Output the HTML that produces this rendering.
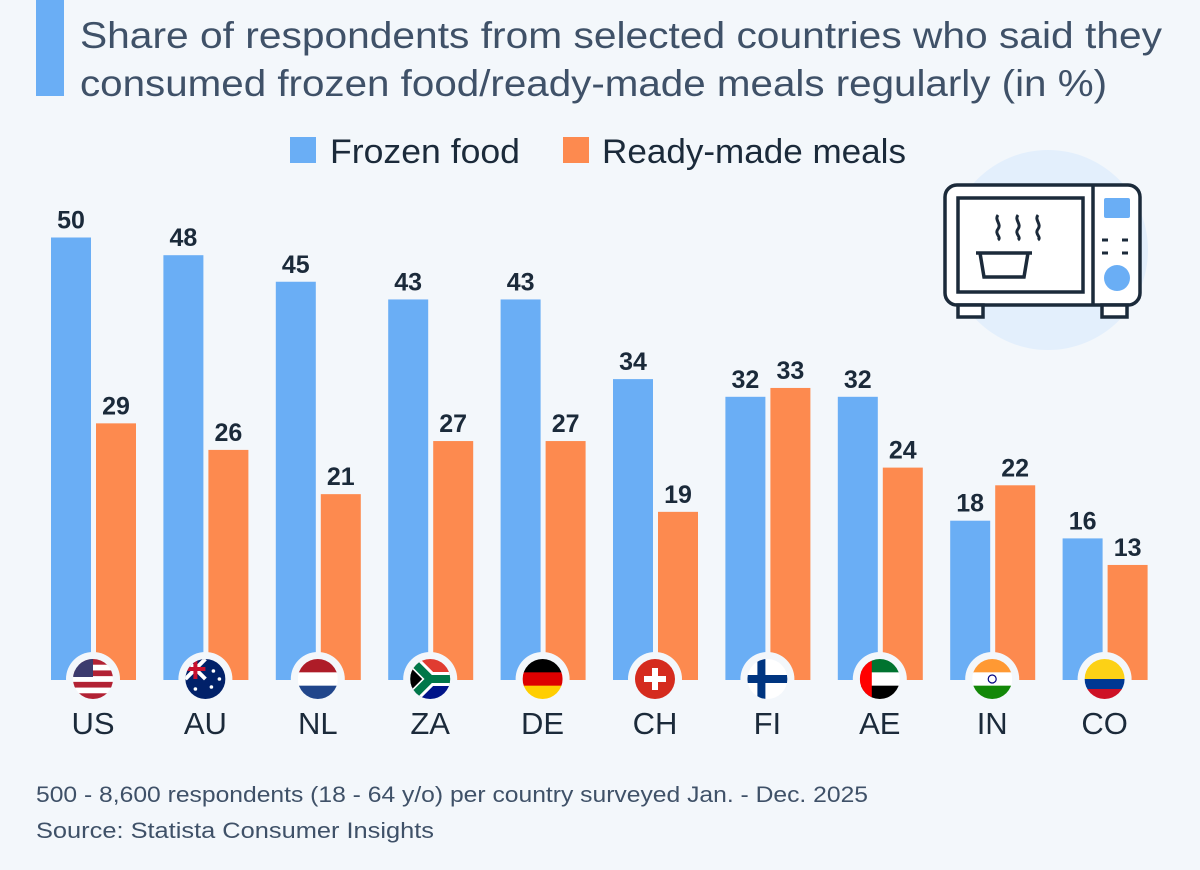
<!DOCTYPE html>
<html><head><meta charset="utf-8">
<style>
body{margin:0;background:#f3f7fb;width:1200px;height:865px;overflow:hidden;font-family:"Liberation Sans",sans-serif}
svg text{font-family:"Liberation Sans",sans-serif}
</style></head>
<body>
<svg id="c" width="1200" height="865" xmlns="http://www.w3.org/2000/svg">
<rect x="0" y="0" width="1200" height="865" fill="#f3f7fb"/>
<rect x="36" y="0" width="28" height="96" fill="#6aaef5"/>
<text x="80" y="48" font-size="37" fill="#3f5168" textLength="1082" lengthAdjust="spacingAndGlyphs">Share of respondents from selected countries who said they</text>
<text x="80" y="96" font-size="37" fill="#3f5168" textLength="1027" lengthAdjust="spacingAndGlyphs">consumed frozen food/ready-made meals regularly (in %)</text>
<g>
<rect x="290" y="137" width="26" height="26" fill="#6aaef5"/>
<text x="330" y="163" font-size="34" fill="#1b2a3a" textLength="190" lengthAdjust="spacingAndGlyphs">Frozen food</text>
<rect x="563" y="137" width="26" height="26" fill="#fd8a4f"/>
<text x="602" y="163" font-size="34" fill="#1b2a3a" textLength="304" lengthAdjust="spacingAndGlyphs">Ready-made meals</text>
</g>
<g fill="none" stroke="#1b2a3a" stroke-width="3.5">
<circle cx="1048" cy="250" r="100" fill="#e3effc" stroke="none"/>
<rect x="945" y="185" width="195" height="120" rx="12" fill="#fff"/>
<rect x="958" y="198" width="125" height="94"/>
<line x1="1093" y1="185" x2="1093" y2="305"/>
<rect x="958" y="305" width="25" height="12" fill="#fff"/>
<rect x="1102" y="305" width="25" height="12" fill="#fff"/>
<rect x="1104" y="198" width="26" height="20" rx="2" fill="#6aaef5" stroke="none"/>
<circle cx="1117" cy="278" r="13" fill="#6aaef5" stroke="none"/>
<path d="M1102 240h6M1122 240h6M1102 253h6M1122 253h6" stroke-width="3"/>
<path d="M976 253h56M980 253l4 24h40l4-24"/>
<path d="M998 215c-4 5 4 9 0 14s4 8 0 11M1018 215c-4 5 4 9 0 14s4 8 0 11M1038 215c-4 5 4 9 0 14s4 8 0 11" stroke-width="3"/>
</g>
<g id="bars"></g>
<text x="36" y="802" font-size="22" fill="#3f5168" textLength="832" lengthAdjust="spacingAndGlyphs">500 - 8,600 respondents (18 - 64 y/o) per country surveyed Jan. - Dec. 2025</text>
<text x="36" y="838" font-size="22" fill="#3f5168" textLength="398" lengthAdjust="spacingAndGlyphs">Source: Statista Consumer Insights</text>
</svg>
<script>
const countries=["US","AU","NL","ZA","DE","CH","FI","AE","IN","CO"];
const frozen=[50,48,45,43,43,34,32,32,18,16];
const ready=[29,26,21,27,27,19,33,24,22,13];
const NS="http://www.w3.org/2000/svg";
const g=document.getElementById('bars');
const base=680, scale=8.85, x0=51, step=112.4, bw=40;
const y=v=>base-v*scale;
function mk(t,a,p){const e=document.createElementNS(NS,t);for(const k in a)e.setAttribute(k,a[k]);(p||g).appendChild(e);return e;}
const flags={
US:[["#b22234","#fff","#b22234","#fff","#b22234","#fff","#b22234"],"us"],
AU:[["#012169"],"au"],NL:[["#ae1c28","#fff","#21468b"]],
ZA:[["#e03c31","#007749","#001489"],"za"],DE:[["#000","#dd0000","#ffce00"]],
CH:[["#d52b1e"],"ch"],FI:[["#fff"],"fi"],AE:[["#00732f","#fff","#000"],"ae"],
IN:[["#ff9933","#fff","#138808"],"in"],CO:[["#fcd116","#fcd116","#003893","#ce1126"]]};
countries.forEach((c,i)=>{
 const x=x0+i*step;
 let r=mk('rect',{x:x,y:y(frozen[i]),width:bw,height:frozen[i]*scale,fill:'#6aaef5'});
 
 
 r=mk('rect',{x:x+45,y:y(ready[i]),width:bw,height:ready[i]*scale,fill:'#fd8a4f'});
 
 
 let t=mk('text',{x:x+bw/2,y:y(frozen[i])-9,'font-size':25,'font-weight':'bold','text-anchor':'middle',fill:'#1b2a3a'});
 t.textContent=frozen[i];
 
 
 t=mk('text',{x:x+45+bw/2,y:y(ready[i])-9,'font-size':25,'font-weight':'bold','text-anchor':'middle',fill:'#1b2a3a'});
 t.textContent=ready[i];
 
 
 const cx=x+42, cy=679;
 const fg=mk('g',{});
 
 
 mk('circle',{cx:cx,cy:cy,r:27,fill:'#f3f7fb'},fg);
 const id='cl'+i;
 const cp=mk('clipPath',{id:id},fg);mk('circle',{cx:cx,cy:cy,r:20},cp);
 const fl=mk('g',{'clip-path':'url(#'+id+')'},fg);
 const cols=flags[c][0],n=cols.length;
 cols.forEach((col,k)=>mk('rect',{x:cx-20,y:cy-20+k*40/n,width:40,height:40/n+0.5,fill:col},fl));
 const sp=flags[c][1];
 if(sp==='us')mk('rect',{x:cx-20,y:cy-20,width:20,height:18,fill:'#3c3b6e'},fl);
 if(sp==='au'){mk('path',{d:`M${cx-20} ${cy-20}L${cx} ${cy}M${cx} ${cy-20}L${cx-20} ${cy}`,stroke:'#fff','stroke-width':4},fl);mk('path',{d:`M${cx-10} ${cy-20}V${cy}M${cx-20} ${cy-10}H${cx}`,stroke:'#c8102e','stroke-width':4},fl);[[8,-8],[14,0],[6,8],[-10,10]].forEach(p=>mk('circle',{cx:cx+p[0],cy:cy+p[1],r:1.8,fill:'#fff'},fl));}
 if(sp==='za'){mk('path',{d:`M${cx-20} ${cy-20}L${cx} ${cy}L${cx-20} ${cy+20}`,fill:'none',stroke:'#fff','stroke-width':14},fl);mk('rect',{x:cx-4,y:cy-7,width:26,height:14,fill:'#fff'},fl);mk('path',{d:`M${cx-20} ${cy-20}L${cx} ${cy}L${cx-20} ${cy+20}`,fill:'none',stroke:'#007749','stroke-width':8},fl);mk('rect',{x:cx-2,y:cy-4,width:24,height:8,fill:'#007749'},fl);mk('path',{d:`M${cx-20} ${cy-12}L${cx-8} ${cy}L${cx-20} ${cy+12}Z`,fill:'#000'},fl);}
 if(sp==='ch')mk('path',{d:`M${cx-3} ${cy-11}h6v8h8v6h-8v8h-6v-8h-8v-6h8z`,fill:'#fff'},fl);
 if(sp==='fi'){mk('rect',{x:cx-20,y:cy-4,width:40,height:8,fill:'#003580'},fl);mk('rect',{x:cx-10,y:cy-20,width:8,height:40,fill:'#003580'},fl);}
 if(sp==='ae')mk('rect',{x:cx-20,y:cy-20,width:12,height:40,fill:'#ff0000'},fl);
 if(sp==='in')mk('circle',{cx:cx,cy:cy,r:4,fill:'none',stroke:'#000080','stroke-width':1.2},fl);
 t=mk('text',{x:cx,y:734,'font-size':31,'text-anchor':'middle',fill:'#1b2a3a'});
 t.textContent=c;
 
 
});
</script>
</body></html>
